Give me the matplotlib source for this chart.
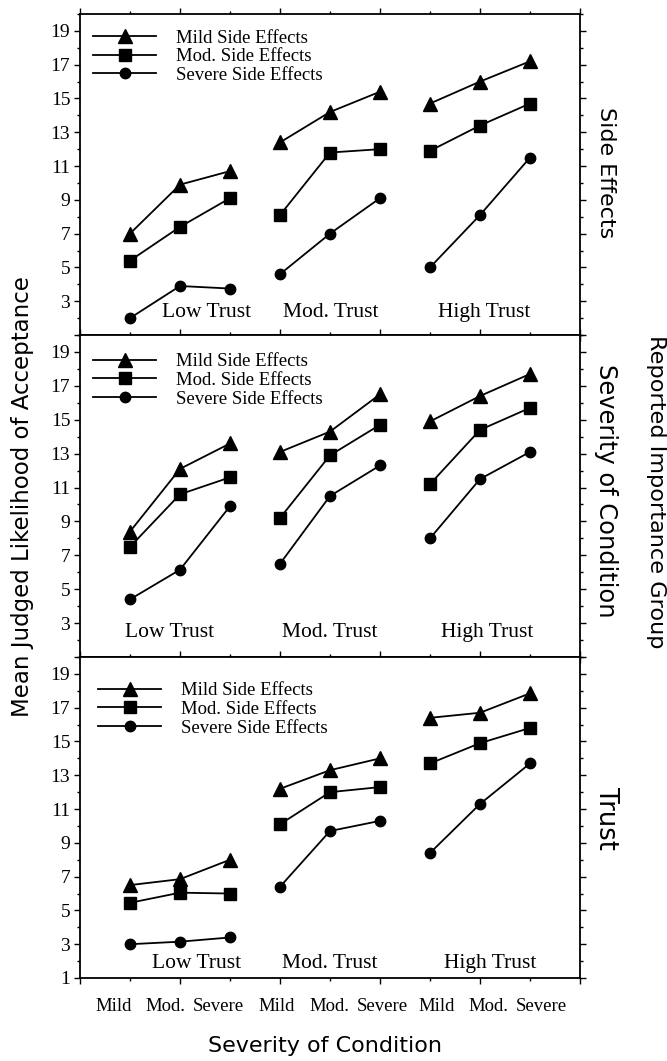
import numpy as np
import matplotlib
matplotlib.use('Agg')
import matplotlib.pyplot as plt
from matplotlib.lines import Line2D
from matplotlib.transforms import blended_transform_factory

# 数据：三个面板，每条线 9 个点 = 3 个信任组 x 3 个严重程度
trust_groups = ['Low Trust', 'Mod. Trust', 'High Trust']
severity = ['Mild', 'Mod.', 'Severe']
side_labels = ['Mild Side Effects', 'Mod. Side Effects', 'Severe Side Effects']
panel_titles = ['Side Effects', 'Severity of Condition', 'Trust']

side_mild = [7.0, 9.9, 10.7, 12.4, 14.2, 15.4, 14.7, 16.0, 17.2]
side_mod = [5.4, 7.4, 9.1, 8.1, 11.8, 12.0, 11.9, 13.4, 14.7]
side_sev = [2.0, 3.9, 3.75, 4.6, 7.0, 9.1, 5.0, 8.1, 11.5]

cond_mild = [8.4, 12.1, 13.6, 13.1, 14.3, 16.5, 14.9, 16.4, 17.7]
cond_mod = [7.5, 10.6, 11.6, 9.2, 12.9, 14.7, 11.2, 14.4, 15.7]
cond_sev = [4.4, 6.15, 9.9, 6.5, 10.5, 12.3, 8.0, 11.5, 13.1]

trust_mild = [6.5, 6.85, 8.0, 12.2, 13.3, 14.0, 16.4, 16.7, 17.85]
trust_mod = [5.45, 6.05, 6.0, 10.1, 12.0, 12.3, 13.7, 14.9, 15.8]
trust_sev = [3.0, 3.15, 3.4, 6.4, 9.7, 10.3, 8.4, 11.3, 13.7]

panels = [
    [side_mild, side_mod, side_sev],
    [cond_mild, cond_mod, cond_sev],
    [trust_mild, trust_mod, trust_sev],
]

plt.rcParams['font.family'] = 'serif'
plt.rcParams['font.serif'] = ['Liberation Serif', 'DejaVu Serif']

markers = ['^', 's', 'o']
msizes = [9.5, 8, 7.5]
x = np.arange(1, 10)

fig = plt.figure(figsize=(6.67, 10.61), dpi=100)

# 面板位置 (像素 -> 比例)
W, H = 667.0, 1061.0
tops = [14, 335, 657]
bots = [335, 657, 978]

# 每个面板的图例位置和组标签高度
legend_pos = [(0.026, 0.952), (0.026, 0.944), (0.036, 0.922)]
group_label_y = [0.07, 0.077, 0.046]
group_label_x = [[2.54, 5.02, 8.08], [1.8, 5.0, 8.14], [2.34, 5.0, 8.2]]
# 右侧标签：字号和中心位置(像素)
title_size = [16, 17.4, 18.5]
title_cy = [173, 491, 818]

axes = []
for p in range(3):
    ax = fig.add_axes([80 / W, 1 - bots[p] / H, 500 / W, (bots[p] - tops[p]) / H])
    axes.append(ax)
    series = panels[p]
    for s in range(3):
        for g in range(3):
            sl = slice(3 * g, 3 * g + 3)
            ax.plot(x[sl], series[s][sl], color='black', lw=1.3,
                    marker=markers[s], ms=msizes[s], mfc='black', mec='black')

    ax.set_xlim(0, 10)
    ax.set_ylim(1, 20)
    ax.set_xticks(np.arange(0, 11, 2))
    ax.set_xticks(np.arange(1, 10, 1), minor=True)
    ax.set_yticks(np.arange(1, 20, 2))
    ax.set_yticks(np.arange(2, 21, 2), minor=True)
    ylabels = [str(v) for v in range(1, 20, 2)]
    if p < 2:
        ylabels[0] = ''
    ax.set_yticklabels(ylabels, fontsize=14)
    ax.set_xticklabels([])
    ax.tick_params(which='both', direction='out', top=True, right=True,
                   labelright=False, width=1.0)
    ax.tick_params(which='major', length=4, pad=3)
    ax.tick_params(which='minor', length=2)
    for sp in ax.spines.values():
        sp.set_linewidth(1.3)

    handles = [Line2D([], [], color='black', lw=1.3, marker=markers[s],
                      ms=msizes[s]) for s in range(3)]
    ax.legend(handles, side_labels, loc='upper left',
              bbox_to_anchor=legend_pos[p], frameon=False, fontsize=13.5,
              handlelength=3.36, handletextpad=1.07, labelspacing=0.085,
              borderpad=0, borderaxespad=0)

    tr = blended_transform_factory(ax.transData, ax.transAxes)
    for g in range(3):
        ax.text(group_label_x[p][g], group_label_y[p], trust_groups[g],
                transform=tr, ha='center', va='center', fontsize=15.5)

    fig.text(606 / W, 1 - title_cy[p] / H, panel_titles[p],
             rotation=-90, ha='center', va='center', fontsize=title_size[p],
             family='DejaVu Sans')

# 底部 x 轴标签：每组略微错开
group_shift = [-0.29, -0.02, 0.17]
sev_shift = [-0.04, 0.0, 0.06]
ax = axes[2]
tr = blended_transform_factory(ax.transData, ax.transAxes)
for g in range(3):
    for k in range(3):
        ax.text(x[3 * g + k] + group_shift[g] + sev_shift[k], -0.09, severity[k],
                transform=tr, ha='center', va='center', fontsize=13.5)

fig.text(23 / W, 1 - 497 / H, 'Mean Judged Likelihood of Acceptance',
         rotation=90, ha='center', va='center', fontsize=16.5,
         family='DejaVu Sans')
fig.text(325 / W, 1 - 1046 / H, 'Severity of Condition',
         ha='center', va='center', fontsize=16, family='DejaVu Sans')
fig.text(656 / W, 1 - 492 / H, 'Reported Importance Group',
         rotation=-90, ha='center', va='center', fontsize=16.1,
         family='DejaVu Sans')

fig.savefig('out.png', dpi=100)
